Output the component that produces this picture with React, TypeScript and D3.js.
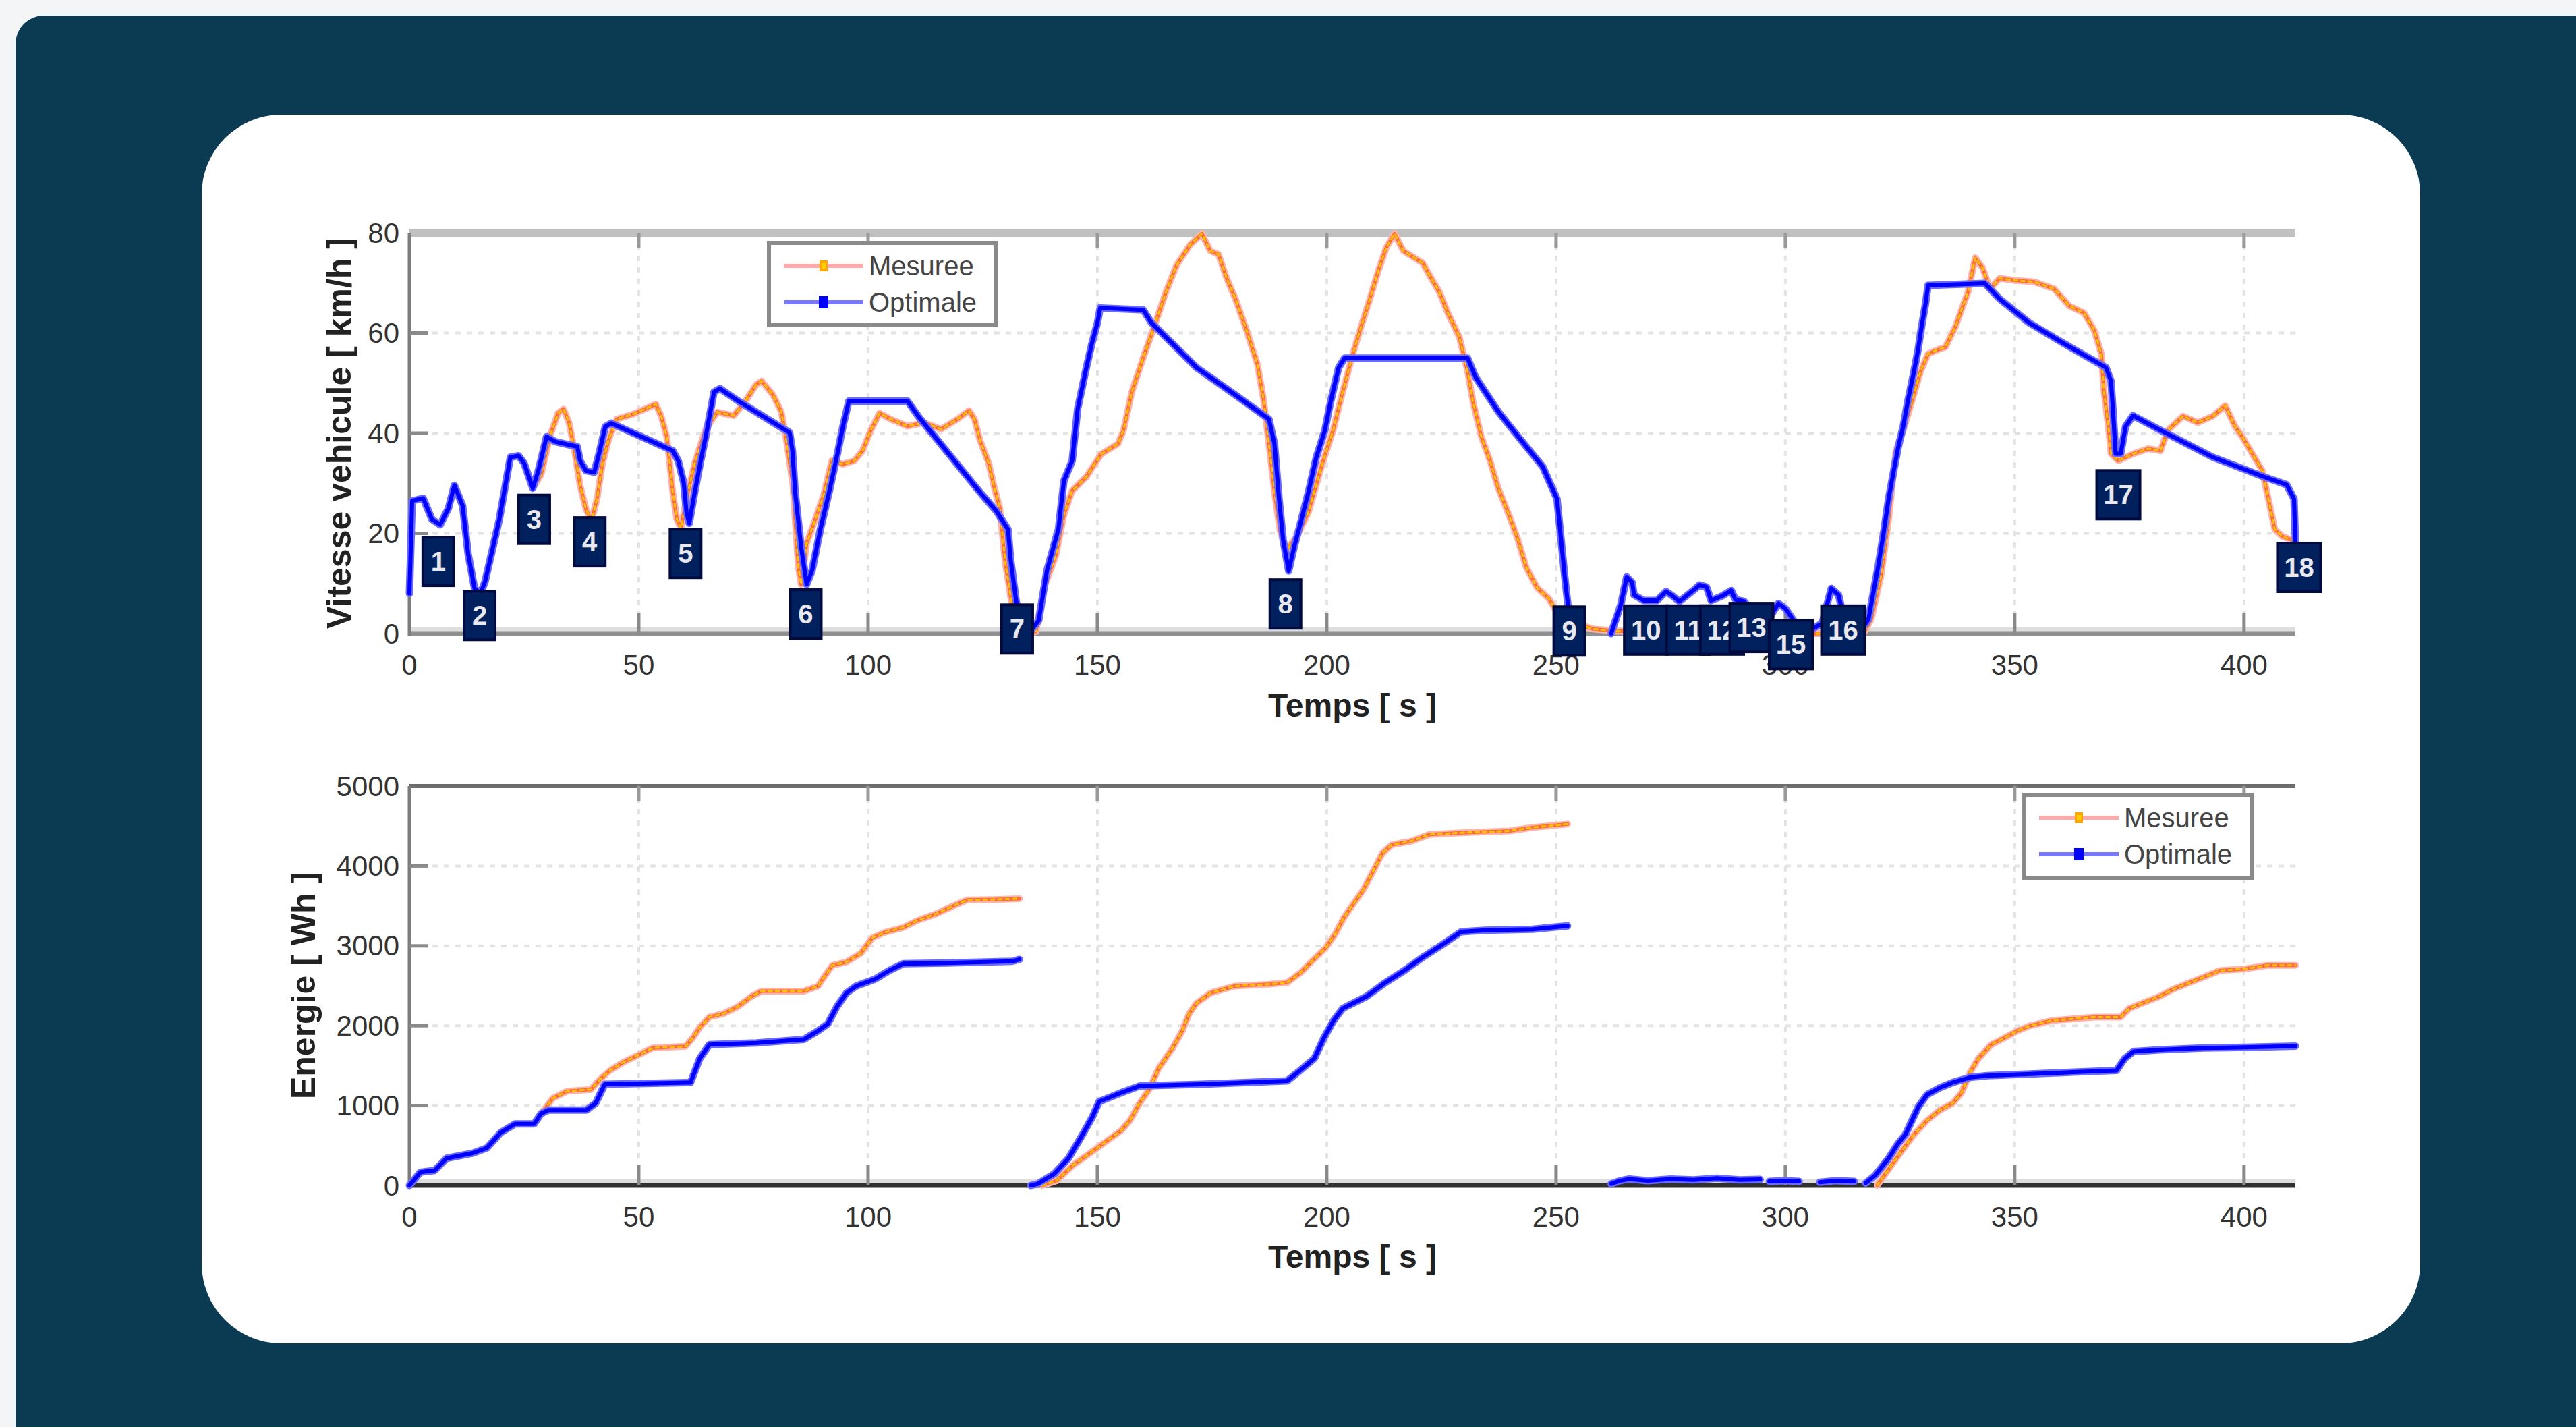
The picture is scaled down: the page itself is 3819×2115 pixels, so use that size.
import * as d3 from "d3";

// time axis ticks (s)
const timeTicks = [0, 50, 100, 150, 200, 250, 300, 350, 400];
const speedTicks = [0, 20, 40, 60, 80];
const energyTicks = [0, 1000, 2000, 3000, 4000, 5000];

// [time s, speed km/h]
const speedMesuree: [number, number | null][] = [
  [0, 8], [0.6, 26.5], [3, 27], [4.9, 22.8], [6.7, 21.7], [8.5, 25], [9.8, 29.6], [11.6, 25.5], [12.8, 15.9],
  [14.2, 9], [15.5, 8], [16.5, 10.4], [18.4, 18], [19.6, 22.8], [20.8, 29], [22, 35.2], [23.8, 35.5], [25, 34],
  [26.9, 29], [28.7, 31.7], [30.6, 39.3], [32.4, 44], [33.6, 44.8], [34.8, 42.1], [36, 36.5], [37.2, 29.6],
  [38.5, 24.8], [39.7, 22.5], [40.9, 26.9], [42.1, 34], [43.4, 38.6], [45.2, 42.8], [48.8, 43.8], [51.3, 44.8],
  [53.7, 45.8], [54.9, 43.4], [56.1, 39.3], [56.7, 34.5], [57.4, 28.3], [58.3, 22.8], [59.2, 21], [60.4, 26.9],
  [62.2, 34], [64.6, 40.8], [67.1, 44.2], [70.7, 43.5], [73.2, 46.3], [75.6, 49.7], [76.8, 50.4], [79.3, 47.6],
  [81.1, 44.2], [82.3, 38], [83.6, 29.7], [84.2, 21.5], [84.8, 13.2], [85.4, 9.8], [86.6, 18], [88.5, 22.8],
  [90.3, 27.6], [92.1, 34.5], [94.5, 33.8], [97, 34.5], [98.8, 36.5], [100.6, 40.6], [102.5, 44], [104.9, 42.8],
  [108.6, 41.4], [112.2, 42.1], [115.9, 40.8], [119.5, 42.8], [122, 44.5], [123.2, 42.8], [124.4, 38.6],
  [126.3, 34], [127.5, 29.2], [128.7, 25.1], [129.9, 14.2], [131.1, 7.3], [132.3, 1.1], [134, 0], [136.6, 0.4],
  [138.4, 9.3], [140.9, 15.5], [142.7, 23.7], [144.5, 28.5], [147.6, 31.3], [150.8, 35.8], [154.5, 37.9],
  [155.7, 40.6], [157.5, 48.2], [160, 55.1], [162.4, 61.3], [164.9, 68.1], [167.3, 73.6], [170.3, 77.7],
  [172.8, 79.8], [174.6, 76.4], [176.4, 75.7], [178.2, 70.9], [180.1, 66.8], [182.5, 60.6], [184.9, 53.7],
  [186.2, 46.9], [187.4, 37.9], [188.6, 28.3], [189.8, 20.7], [191.1, 16.5], [193.5, 19.4], [196, 24.2],
  [199, 33.8], [201.4, 40.6], [203.3, 47.6], [205.7, 55.8], [207.5, 61.3], [209.4, 66.8], [211.2, 72.3],
  [213, 77.1], [214.8, 79.8], [216.7, 76.4], [219.1, 75], [220.9, 74], [222.8, 70.9], [224.6, 68.1], [226.4, 64],
  [228.9, 59.2], [230.7, 52.4], [231.9, 46.2], [233.7, 39.3], [235.6, 34.5], [237.4, 29], [239.8, 23.5],
  [241.7, 18.7], [243.5, 13.2], [245.9, 9.1], [248.4, 7], [250.2, 4.3], [253.3, 2.3], [258.1, 0.9], [263, 0.5],
  [290, 0], [317, 0], [318.7, 2.8], [320.9, 11.8], [322.5, 22.8], [324.1, 36.5], [325.7, 40.6], [327.3, 45.5],
  [329.5, 52.4], [331.1, 55.8], [332.8, 56.5], [334.9, 57.2], [337.1, 61.3], [338.7, 65.4], [339.8, 68.1],
  [341.4, 75], [343, 73], [344.6, 68.8], [346.7, 70.9], [350, 70.5], [354.3, 70.2], [358.6, 68.8], [361.9, 65.4],
  [365.1, 64], [367.3, 60.6], [368.9, 55.8], [369.4, 48.9], [370.5, 40.6], [371, 35.9], [372.6, 34.5],
  [375.9, 35.9], [379.1, 36.9], [381.8, 36.5], [383.4, 40.6], [386.7, 43.4], [389.9, 42.1], [393.2, 43.4],
  [395.9, 45.5], [398, 41.4], [399.6, 39.3], [401.8, 35.9], [404, 32.5], [405.6, 25.6], [406.7, 20.8],
  [408.3, 19.4], [410.4, 18.7],
];

const speedOptimale: [number, number | null][] = [
  [0, 8], [0.6, 26.5], [3, 27], [4.9, 22.8], [6.7, 21.7], [8.5, 25], [9.8, 29.6], [11.6, 25.5], [12.8, 15.9],
  [14.2, 9], [15.5, 8], [16.5, 10.4], [18.4, 18], [19.6, 22.8], [20.8, 29], [22, 35.2], [23.8, 35.5], [25, 34],
  [26.9, 29], [28.1, 32.5], [29.9, 39.3], [31.8, 38.3], [36.6, 37.3], [37.2, 34.5], [38.5, 32.5], [40.3, 32.2],
  [41.5, 36.5], [42.7, 41.3], [44, 42], [57.4, 36.5], [58.6, 34.5], [59.8, 30.1], [60.4, 24.3], [61, 22],
  [62.2, 28.2], [63.4, 34], [64.6, 39.3], [66.4, 48.2], [67.7, 48.9], [71.9, 46.3], [82.9, 40.1], [83.5, 36.5],
  [84.1, 28.2], [85.4, 17.3], [86.6, 9.8], [87.8, 12.6], [89.6, 20.8], [91.5, 28.2], [93.3, 35.8], [94.5, 41.3],
  [95.8, 46.4], [108.6, 46.4], [111, 43.3], [124.4, 28.2], [128, 24.4], [130.5, 20.8], [131.1, 14.6],
  [132.3, 6.4], [133.6, 0.9], [135, 0], [137.2, 2.6], [139, 12.6], [141.5, 20.8], [142.7, 30.5], [144.5, 34.5],
  [145.7, 44.9], [147.6, 53.1], [148.8, 57.9], [150, 62], [150.6, 65], [160, 64.6], [161.8, 62], [171.6, 53.1],
  [180.1, 47.6], [187.4, 42.8], [188.6, 37.9], [189.6, 26.9], [190.5, 18.7], [191.7, 12.5], [192.9, 17.3],
  [194.1, 21.4], [196, 28.2], [197.7, 35.1], [199.6, 40.6], [200.8, 46.1], [202.6, 53.1], [203.9, 55],
  [230.7, 55], [232.5, 51.1], [237.4, 44.3], [242.2, 38.8], [247.1, 33.3], [250.2, 26.9], [250.8, 21.4],
  [251.4, 15.9], [252, 10.4], [252.6, 5.6], [253.2, 0], [254, null], [262, 0], [264.1, 5.7], [265.4, 11.3],
  [266.6, 10.2], [267, 7.7], [269.1, 6.6], [272, 6.6], [274, 8.4], [275.4, 7.5], [276.9, 6.4], [280.3, 8.9],
  [281.3, 9.7], [282.8, 9.3], [283.8, 6.6], [286.2, 7.5], [288.2, 8.6], [289.1, 6.8], [291, 6.4], [292.6, 4.6],
  [295, 1], [298.5, 6], [300, 5], [301.5, 3], [304, 0], [308, 2], [310, 9], [311.6, 7.7], [313, 2], [316, 0],
  [318.1, 2.8], [319.2, 8.3], [320.3, 13.8], [321.4, 20], [322.5, 26.9], [323.6, 32.4], [324.6, 37.2],
  [325.7, 41.4], [326.8, 46.9], [327.9, 51.7], [328.9, 56.5], [329.7, 61.3], [330.6, 66.1], [331.1, 69.5],
  [343.5, 69.9], [346.7, 66.8], [353.2, 62], [360.7, 57.9], [369.9, 53.1], [371, 50.4], [371.5, 43.5],
  [372, 35.9], [373.1, 35.9], [374.2, 41.4], [375.8, 43.5], [382.2, 40.4], [393.2, 35.2], [404, 31.4],
  [409.3, 29.7], [410.9, 26.9], [411.2, 18.5],
];

// [time s, energy Wh], null = gap
const energyMesuree: [number, number | null][] = [
  [0, 0], [2.4, 166], [5.5, 188], [8.1, 340], [13.8, 405], [16.9, 470], [19.9, 662], [23, 770], [27.2, 770],
  [28.7, 900], [31.3, 1094], [34.4, 1180], [39.6, 1202], [41.6, 1331], [43.7, 1439], [46.8, 1547], [49.9, 1633],
  [53, 1720], [60.2, 1741], [61.8, 1849], [63.3, 1979], [65.4, 2108], [68.5, 2151], [71.6, 2238], [74.6, 2367],
  [76.7, 2432], [86, 2432], [89.1, 2496], [90.6, 2626], [92.2, 2755], [95.3, 2798], [98.4, 2906], [100.9, 3100],
  [103.5, 3165], [107.7, 3230], [110.7, 3316], [114.9, 3402], [119, 3510], [121.6, 3575], [127.3, 3580],
  [133, 3590], [135, null],
  [138, 0], [141.1, 60], [144.7, 254], [148.9, 426], [152, 555], [155.1, 684], [157.1, 814], [159.2, 1030],
  [161.3, 1202], [163.3, 1461], [166.4, 1720], [168.5, 1936], [170, 2151], [171.6, 2281], [174.7, 2410],
  [179.9, 2496], [187.2, 2518], [191.4, 2540], [194.4, 2669], [196.6, 2798], [199.7, 2971], [201.8, 3143],
  [203.8, 3359], [205.9, 3532], [208, 3704], [210, 3920], [212.1, 4157], [214.2, 4265], [218.3, 4308],
  [222.4, 4394], [229.3, 4416], [239.8, 4438], [244.8, 4481], [252.5, 4524], [255, null],
  [320, 0], [325.3, 427], [328.1, 641], [330.9, 814], [333.7, 944], [336.5, 1030], [338.4, 1159], [340.3, 1418],
  [342.1, 1590], [344.9, 1763], [347.8, 1849], [350.6, 1936], [353.4, 2000], [358.1, 2065], [362.8, 2086],
  [367.5, 2108], [373.1, 2108], [375, 2216], [377.8, 2281], [381.6, 2367], [384.4, 2453], [387.2, 2518],
  [391, 2604], [394.7, 2690], [400.3, 2712], [405, 2755], [411.2, 2755],
];

const energyOptimale: [number, number | null][] = [
  [0, 0], [2.4, 166], [5.5, 188], [8.1, 340], [13.8, 405], [16.9, 470], [19.9, 662], [23, 770], [27.2, 770],
  [28.7, 900], [30.3, 944], [38.6, 944], [40.6, 1030], [42.6, 1267], [61.3, 1289], [63.3, 1590], [65.4, 1763],
  [75.7, 1785], [86, 1828], [89.1, 1936], [91.2, 2022], [93.2, 2238], [95.3, 2410], [97.4, 2496],
  [101.5, 2582], [104.6, 2690], [107.7, 2776], [117, 2784], [131.4, 2806], [133, 2830], [134, null],
  [135.5, 0], [137, 20], [140.6, 146], [143.7, 340], [146.8, 641], [148.9, 857], [150.4, 1051], [155.1, 1159],
  [159.2, 1245], [172.6, 1267], [191.4, 1310], [194.2, 1440], [197.3, 1590], [199.4, 1849], [201.5, 2065],
  [203.5, 2216], [208.7, 2367], [212.8, 2540], [216.9, 2690], [221.1, 2863], [225.2, 3014], [229.3, 3176],
  [234.5, 3194], [244.8, 3207], [252.5, 3250], [257, null],
  [262, 20], [264, 60], [266, 80], [270, 60], [275, 80], [280, 70], [285, 90], [290, 70], [294.5, 75],
  [295.5, null], [296.5, 50], [300, 60], [303, 50], [305, null], [307.5, 40], [311, 60], [315, 50],
  [316.5, null], [317.5, 30], [319.6, 127], [322.5, 340], [324.4, 512], [326.2, 641], [327.6, 814],
  [329, 986], [330.9, 1137], [333.7, 1224], [336.5, 1289], [340.3, 1353], [344, 1375], [353.4, 1396],
  [362.8, 1418], [372.2, 1440], [374, 1590], [375.9, 1677], [381.6, 1698], [391, 1720], [400.3, 1729],
  [411.2, 1745],
];

// numbered stop markers in the speed plot: [time s, speed km/h, label]
const stopLabels: [number, number, string][] = [
  [6.3, 14.4, "1"], [15.3, 3.6, "2"], [27.2, 22.8, "3"], [39.3, 18.3, "4"], [60.2, 16, "5"],
  [86.4, 3.9, "6"], [132.5, 0.9, "7"], [191, 5.9, "8"], [252.9, 0.5, "9"], [269.6, 0.7, "10"],
  [278.8, 0.7, "11"], [286.2, 0.7, "12"], [292.6, 1.2, "13"], [301.2, -2.2, "15"], [312.6, 0.7, "16"],
  [372.6, 27.7, "17"], [412, 13.2, "18"],
];

const FONT = "'Liberation Sans', Arial, sans-serif";

const x = d3.scaleLinear().domain([0, 411.2]).range([607, 3403]);
const ySpeed = d3.scaleLinear().domain([0, 80]).range([939, 345]);
const yEnergy = d3.scaleLinear().domain([0, 5000]).range([1757, 1165]);

function linePath(data: [number, number | null][], y: d3.ScaleLinear<number, number>) {
  const gen = d3
    .line<[number, number | null]>()
    .defined((d) => d[1] !== null)
    .x((d) => x(d[0]))
    .y((d) => y(d[1] as number));
  return gen(data) || "";
}

function Mesuree({ d }: { d: string }) {
  return (
    <g fill="none" strokeLinejoin="round" strokeLinecap="round">
      <path d={d} stroke="#ffb6aa" strokeWidth={10} />
      <path d={d} stroke="#ff6a3d" strokeWidth={5} />
      <path d={d} stroke="#ffc400" strokeWidth={3} strokeDasharray="5 6" />
    </g>
  );
}

function Optimale({ d }: { d: string }) {
  return (
    <g fill="none" strokeLinejoin="round" strokeLinecap="round">
      <path d={d} stroke="#6a6aff" strokeWidth={11} />
      <path d={d} stroke="#0000ff" strokeWidth={6} />
    </g>
  );
}

function Legend({ bx, by, w, h }: { bx: number; by: number; w: number; h: number }) {
  const lx0 = bx + 22;
  const lx1 = bx + 140;
  const mx = (lx0 + lx1) / 2;
  const r1 = by + 34;
  const r2 = by + 88;
  return (
    <g>
      <rect x={bx} y={by} width={w} height={h} fill="#fff" stroke="#8a8a8a" strokeWidth={6} />
      <line x1={lx0} x2={lx1} y1={r1} y2={r1} stroke="#ffaaaa" strokeWidth={6} />
      <rect x={mx - 6} y={r1 - 8} width={12} height={16} fill="#ffa500" />
      <rect x={mx - 3} y={r1 - 4} width={6} height={8} fill="#ffd000" />
      <line x1={lx0} x2={lx1} y1={r2} y2={r2} stroke="#7777ff" strokeWidth={6} />
      <rect x={mx - 7} y={r2 - 9} width={14} height={18} fill="#0000ff" />
      <text x={bx + 148} y={r1} dominantBaseline="central" fontSize={40} fill="#444" fontFamily={FONT}>
        Mesuree
      </text>
      <text x={bx + 148} y={r2} dominantBaseline="central" fontSize={40} fill="#444" fontFamily={FONT}>
        Optimale
      </text>
    </g>
  );
}

function Axes({
  y,
  ticks,
  topColor,
  topWidth,
  bottomColor,
}: {
  y: d3.ScaleLinear<number, number>;
  ticks: number[];
  topColor: string;
  topWidth: number;
  bottomColor: string;
}) {
  const [x0, x1] = x.range();
  const yb = y.range()[0];
  const yt = y.range()[1];
  return (
    <g>
      {timeTicks.slice(1).map((t) => (
        <line key={"gx" + t} x1={x(t)} x2={x(t)} y1={yt} y2={yb} stroke="#e3e3e3" strokeWidth={4} strokeDasharray="8 9" />
      ))}
      {ticks.slice(1, -1).map((v) => (
        <line key={"gy" + v} x1={x0} x2={x1} y1={y(v)} y2={y(v)} stroke="#e3e3e3" strokeWidth={4} strokeDasharray="8 9" />
      ))}
      <line x1={x0} x2={x1} y1={yt} y2={yt} stroke={topColor} strokeWidth={topWidth} />
      <line x1={x0} x2={x1} y1={yb - 6} y2={yb - 6} stroke="#dedede" strokeWidth={6} />
      <line x1={x0} x2={x1} y1={yb} y2={yb} stroke={bottomColor} strokeWidth={7} />
      <line x1={x0} x2={x0} y1={yt} y2={yb + 3} stroke="#7d7d7d" strokeWidth={5} />
      {timeTicks.slice(1).map((t) => (
        <g key={"tx" + t}>
          <line x1={x(t)} x2={x(t)} y1={yb} y2={yb - 30} stroke="#8a8a8a" strokeWidth={5} />
          <line x1={x(t)} x2={x(t)} y1={yt} y2={yt + 22} stroke="#9a9a9a" strokeWidth={5} />
        </g>
      ))}
      {ticks.slice(1, -1).map((v) => (
        <line key={"ty" + v} x1={x0} x2={x0 + 28} y1={y(v)} y2={y(v)} stroke="#8a8a8a" strokeWidth={5} />
      ))}
      {timeTicks.map((t) => (
        <text key={"lx" + t} x={x(t)} y={yb + 46} textAnchor="middle" dominantBaseline="central" fontSize={42} fill="#333" fontFamily={FONT}>
          {t}
        </text>
      ))}
      {ticks.map((v) => (
        <text key={"ly" + v} x={592} y={y(v)} textAnchor="end" dominantBaseline="central" fontSize={42} fill="#333" fontFamily={FONT}>
          {v}
        </text>
      ))}
    </g>
  );
}

export default function App() {
  const W = 3819;
  const H = 2115;
  return (
    <svg width={W} height={H} style={{ position: "absolute", left: 0, top: 0 }}>
      <rect x={0} y={0} width={W} height={H} fill="#f3f5f7" />
      <rect x={23} y={23} width={W + 100} height={H + 100} rx={42} fill="#0a3b53" />
      <rect x={299} y={170} width={3588 - 299} height={1991 - 170} rx={118} fill="#fff" />

      {/* speed plot */}
      <Axes y={ySpeed} ticks={speedTicks} topColor="#c0c0c0" topWidth={12} bottomColor="#909090" />
      <Mesuree d={linePath(speedMesuree, ySpeed)} />
      <Optimale d={linePath(speedOptimale, ySpeed)} />
      <Legend bx={1140} by={360} w={336} h={122} />
      {stopLabels.map(([t, v, s], i) => {
        const w = s.length === 1 ? 46 : 64;
        const h = 72;
        const cx = x(t);
        const cy = ySpeed(v);
        return (
          <g key={"sl" + i}>
            <rect x={cx - w / 2} y={cy - h / 2} width={w} height={h} fill="#00205e" stroke="#000a3e" strokeWidth={4} />
            <text x={cx} y={cy} textAnchor="middle" dominantBaseline="central" fontSize={40} fontWeight="bold" fill="#e8e8ee" fontFamily={FONT}>
              {s}
            </text>
          </g>
        );
      })}
      <text x={2005} y={1062} textAnchor="middle" fontSize={48} fontWeight="bold" fill="#222" fontFamily={FONT}>
        Temps [ s ]
      </text>
      <text transform="translate(503,642) rotate(-90)" textAnchor="middle" dominantBaseline="central" fontSize={50} fontWeight="bold" fill="#222" fontFamily={FONT}>
        Vitesse vehicule [ km/h ]
      </text>

      {/* energy plot */}
      <Axes y={yEnergy} ticks={energyTicks} topColor="#6e6e6e" topWidth={6} bottomColor="#303030" />
      <Mesuree d={linePath(energyMesuree, yEnergy)} />
      <Optimale d={linePath(energyOptimale, yEnergy)} />
      <Legend bx={3001} by={1178} w={338} h={123} />
      <text x={2005} y={1879} textAnchor="middle" fontSize={48} fontWeight="bold" fill="#222" fontFamily={FONT}>
        Temps [ s ]
      </text>
      <text transform="translate(450,1461) rotate(-90)" textAnchor="middle" dominantBaseline="central" fontSize={50} fontWeight="bold" fill="#222" fontFamily={FONT}>
        Energie [ Wh ]
      </text>
    </svg>
  );
}
